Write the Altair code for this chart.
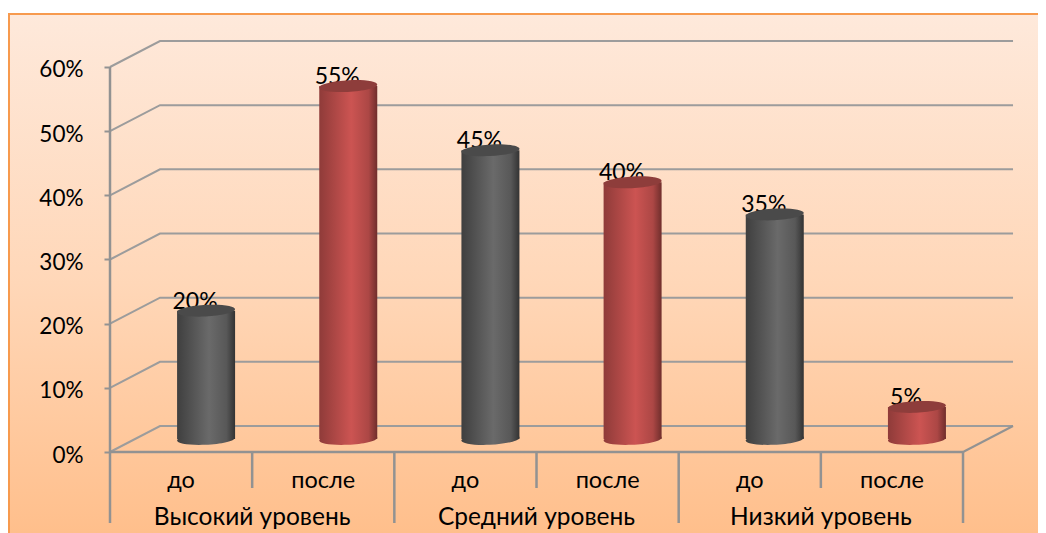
import altair as alt
import pandas as pd

groups = ["Высокий уровень", "Средний уровень", "Низкий уровень"]
phases = ["до", "после"]
values = [20, 55, 45, 40, 35, 5]
levels = [0, 10, 20, 30, 40, 50, 60]

FONT = "Lato"
W, H = 1030, 525
PX_X = 142.17          # px per category
PX_Y = 6.4167          # px per percent
X0, Y0 = 102, 444      # origin inside the view
DX, DY = 50 / PX_X, 26 / PX_Y  # depth of the pseudo-3D box
x_dom = [-X0 / PX_X, (W - X0) / PX_X]
y_dom = [-(H - Y0) / PX_Y, Y0 / PX_Y]
n = len(values)
xs = alt.Scale(domain=x_dom, nice=False, zero=False)
ys = alt.Scale(domain=y_dom, nice=False, zero=False)
GRID = "#929292"

PCT_AXIS = alt.Axis(
    values=levels, labelExpr="datum.value + '%'", offset=-X0, domain=False, grid=False,
    tickColor=GRID, tickWidth=2, tickSize=6, labelPadding=21, labelFont=FONT, labelFontSize=22.5,
    labelColor="#000000", labelOffset=3, labelBaseline="middle", zindex=1, title=None)


def grad(stops, horizontal=True):
    return {
        "gradient": "linear",
        "x1": 0, "y1": 0,
        "x2": 1 if horizontal else 0,
        "y2": 0 if horizontal else 1,
        "stops": [{"offset": (s[0]), "color": s[1]} for s in stops],
    }


X = lambda f: alt.X(f + ":Q", scale=xs, axis=None)
Y = lambda f: alt.Y(f + ":Q", scale=ys, axis=PCT_AXIS, title=None)

# panel
panel = pd.DataFrame({"a": [x_dom[0] + 1 / PX_X], "b": [x_dom[1] + 20 / PX_X],
                      "c": [y_dom[1] - 6 / PX_Y], "d": [y_dom[0] - 20 / PX_Y]})
bg = alt.Chart(panel).mark_rect(
    color=grad([(0, "#FEE9DB"), (0.5, "#FFD7B8"), (1, "#FFBD88")], False),
    stroke="#F79A4E", strokeWidth=2, clip=True,
).encode(x=X("a"), x2="b", y=Y("c"), y2="d")

# grid: slanted side and back wall line for each level
rows = []
for v in levels:
    rows += [{"k": v, "o": 0, "x": 0, "y": v},
             {"k": v, "o": 1, "x": DX, "y": v + DY},
             {"k": v, "o": 2, "x": n + DX, "y": v + DY}]
grid = alt.Chart(pd.DataFrame(rows)).mark_line(color="#9C9C9C", strokeWidth=2).encode(
    x=X("x"), y=Y("y"), detail="k:N", order="o:Q")

side = alt.Chart(pd.DataFrame({"x": [n, n + DX], "y": [0, DY]})).mark_line(
    color=GRID, strokeWidth=2).encode(x=X("x"), y=Y("y"))

# axes frame
frame = alt.Chart(pd.DataFrame({"x": [0], "x2": [n], "y": [0]})).mark_rule(
    color=GRID, strokeWidth=2.5).encode(x=X("x"), x2="x2", y=Y("y"))
yline = alt.Chart(pd.DataFrame({"x": [0], "y": [0], "y2": [60]})).mark_rule(
    color=GRID, strokeWidth=2.5).encode(x=X("x"), y=Y("y"), y2="y2")
seps = pd.DataFrame({"x": list(range(n + 1))})
seps["y2"] = [(-71 / PX_Y if i % 2 == 0 else -36 / PX_Y) for i in seps["x"]]
seps["y"] = 0
sep = alt.Chart(seps).mark_rule(color=GRID, strokeWidth=2.5).encode(
    x=X("x"), y=Y("y"), y2="y2")

# data table
df = pd.DataFrame({"i": range(n), "v": values})
df["phase"] = [phases[i % 2] for i in df["i"]]
df["group"] = [groups[i // 2] for i in df["i"]]
df["cx"] = df["i"] + 0.5 + DX / 2
df["lx"] = df["cx"] - 11 / PX_X
df["l"] = df["cx"] - 29 / PX_X
df["r"] = df["cx"] + 29 / PX_X
df["top"] = df["v"] + DY / 2
df["bot"] = DY / 2
df["label"] = df["v"].astype(str) + "%"

labels = alt.Chart(df).mark_text(
    font=FONT, fontSize=23, color="#000000", baseline="alphabetic", align="center", dy=-15
).encode(x=X("lx"), y=Y("v"), text="label:N")

ELL = "M-1,0.045 A1,0.2 -3 1 1 1,-0.045 A1,0.2 -3 1 1 -1,0.045 Z"
SIZE = 58 ** 2


def cylinder(phase, stops, top_color):
    d = alt.Chart(df[df["phase"] == phase])
    g = grad(stops)
    base = d.mark_point(shape=ELL, size=SIZE, filled=True, fill=g, opacity=1, strokeWidth=0).encode(
        x=X("cx"), y=Y("bot"))
    body = d.mark_rect(color=g).encode(x=X("l"), x2="r", y=Y("top"), y2="bot")
    cap = d.mark_point(shape=ELL, size=SIZE, filled=True, fill=top_color, opacity=1, strokeWidth=0).encode(
        x=X("cx"), y=Y("top"))
    return base + body + cap


dark = cylinder("до", [(0, "#3F3F3F"), (0.55, "#6A6A6A"), (0.85, "#585858"), (1, "#333333")], "#4A4A4A")
red = cylinder("после", [(0, "#8F3B39"), (0.55, "#CC5452"), (0.85, "#AC4745"), (1, "#702E2C")], "#8E3D3B")

# category labels
phase_text = alt.Chart(df.assign(x=df["i"] + 0.5, y=-36 / PX_Y)).mark_text(
    font=FONT, fontSize=23.5, color="#000000", baseline="alphabetic", align="center"
).encode(x=X("x"), y=Y("y"), text="phase:N")

gdf = pd.DataFrame({"group": groups, "x": [1, 3, 5], "y": -73 / PX_Y})
group_text = alt.Chart(gdf).mark_text(
    font=FONT, fontSize=24.5, color="#000000", baseline="alphabetic", align="center"
).encode(x=X("x"), y=Y("y"), text="group:N")

chart = alt.layer(
    bg, grid, side, frame, yline, sep, labels, dark, red, phase_text, group_text
).properties(
    width=W, height=H, padding=0, autosize=alt.AutoSizeParams(type="none"), background="#FFFFFF"
).configure_view(stroke=None)

chart.save("out.html", embed_options={"renderer": "svg", "actions": False})
